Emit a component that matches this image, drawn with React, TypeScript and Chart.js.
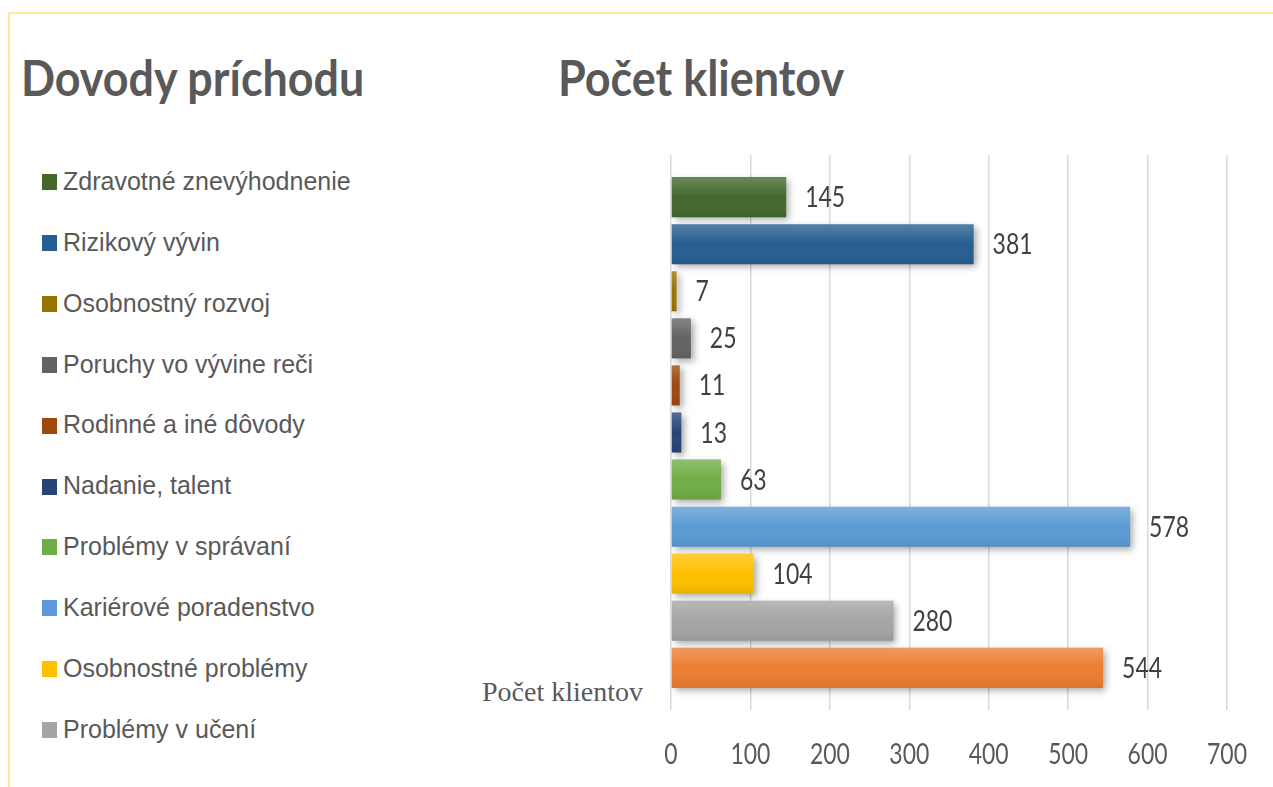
import React, { useEffect, useLayoutEffect, useRef, useState } from "react";
import { Chart, registerables } from "chart.js";

Chart.register(...registerables);

// ---- data ----
const categories: string[] = ["Počet klientov"];
const seriesNames: string[] = [
  "Zdravotné znevýhodnenie",
  "Rizikový vývin",
  "Osobnostný rozvoj",
  "Poruchy vo vývine reči",
  "Rodinné a iné dôvody",
  "Nadanie, talent",
  "Problémy v správaní",
  "Kariérové poradenstvo",
  "Osobnostné problémy",
  "Problémy v učení",
  "Iné",
];
const seriesValues: number[] = [145, 381, 7, 25, 11, 13, 63, 578, 104, 280, 544];
const seriesColors: string[] = [
  "#43682B",
  "#255E91",
  "#997300",
  "#636363",
  "#9E480E",
  "#264478",
  "#70AD47",
  "#5B9BD5",
  "#FFC000",
  "#A5A5A5",
  "#ED7D31",
];
const legendVisibleCount = 10;
const xMin = 0;
const xMax = 700;
const xStep = 100;
const leftTitle = "Dovody príchodu";
const chartTitle = "Počet klientov";

const CANVAS_FONT = '28px Lato, "DejaVu Sans", sans-serif';
const TEXT_SQUEEZE = 0.82;

function drawSqueezed(ctx: CanvasRenderingContext2D, text: string, x: number, y: number, align: CanvasTextAlign) {
  ctx.save();
  ctx.translate(x, y);
  ctx.scale(TEXT_SQUEEZE, 1);
  ctx.font = CANVAS_FONT;
  ctx.textAlign = align;
  ctx.textBaseline = "middle";
  ctx.fillText(text, 0, 0);
  ctx.restore();
}

const barEffects = {
  id: "barEffects",
  beforeDatasetsDraw(chart: any) {
    const ctx = chart.ctx;
    ctx.save();
    ctx.shadowColor = "rgba(0,0,0,0.35)";
    ctx.shadowBlur = 7;
    ctx.shadowOffsetX = 3;
    ctx.shadowOffsetY = 3;
  },
  afterDatasetsDraw(chart: any) {
    const ctx = chart.ctx;
    ctx.restore();
    chart.data.datasets.forEach((ds: any, i: number) => {
      const meta = chart.getDatasetMeta(i);
      meta.data.forEach((el: any, j: number) => {
        const { x, y, base, height } = el.getProps(["x", "y", "base", "height"], true);
        const top = y - height / 2;
        const g = ctx.createLinearGradient(0, top, 0, top + height);
        g.addColorStop(0, "rgba(255,255,255,0.22)");
        g.addColorStop(0.5, "rgba(255,255,255,0)");
        g.addColorStop(1, "rgba(0,0,0,0.08)");
        ctx.save();
        ctx.fillStyle = g;
        ctx.fillRect(Math.min(base, x), top, Math.abs(x - base), height);
        ctx.restore();
        ctx.save();
        ctx.fillStyle = "#404040";
        drawSqueezed(ctx, String(ds.data[j]), x + 19, y + 1, "left");
        ctx.restore();
      });
    });
  },
  afterDraw(chart: any) {
    const ctx = chart.ctx;
    const xs = chart.scales.x;
    ctx.save();
    ctx.fillStyle = "#595959";
    xs.ticks.forEach((t: any) => {
      const px = xs.getPixelForValue(t.value);
      drawSqueezed(ctx, String(t.value), px, chart.chartArea.bottom + 45, "center");
    });
    ctx.restore();
  },
};

function BarChart() {
  const ref = useRef<HTMLCanvasElement | null>(null);
  useEffect(() => {
    if (!ref.current) return;
    const chart = new Chart(ref.current, {
      type: "bar",
      data: {
        labels: categories,
        datasets: seriesNames.map((name, i) => ({
          label: name,
          data: [seriesValues[i]],
          backgroundColor: seriesColors[i],
          borderWidth: 0,
          categoryPercentage: 0.933,
          barPercentage: 0.85,
        })),
      },
      options: {
        indexAxis: "y",
        responsive: false,
        animation: false,
        devicePixelRatio: 1,
        layout: { padding: { left: 71, right: 46, top: 15, bottom: 77 } },
        plugins: { legend: { display: false }, tooltip: { enabled: false }, title: { display: false } },
        scales: {
          x: {
            min: xMin,
            max: xMax,
            ticks: { stepSize: xStep, display: false },
            grid: { color: "#D9D9D9", lineWidth: 1.5, drawTicks: false },
            border: { display: false },
          },
          y: { display: false },
        },
      },
      plugins: [barEffects],
    } as any);
    return () => chart.destroy();
  }, []);
  return (
    <canvas
      ref={ref}
      width={673}
      height={647}
      style={{ position: "absolute", left: 600, top: 140, width: 673, height: 647, display: "block" }}
    />
  );
}

function FitText({ text, width, style }: { text: string; width: number; style: React.CSSProperties }) {
  const ref = useRef<HTMLDivElement | null>(null);
  const [k, setK] = useState(1);
  useLayoutEffect(() => {
    if (ref.current) {
      const w = ref.current.scrollWidth;
      if (w > 0) setK(width / w);
    }
  }, [text, width]);
  return (
    <div
      ref={ref}
      style={{ ...style, whiteSpace: "nowrap", transform: `scaleX(${k})`, transformOrigin: "left top" }}
    >
      {text}
    </div>
  );
}

const titleStyle: React.CSSProperties = {
  position: "absolute",
  top: 53,
  fontFamily: 'Lato, "DejaVu Sans", sans-serif',
  fontWeight: 700,
  fontSize: 49,
  lineHeight: "49px",
  color: "#595959",
};

export default function App() {
  return (
    <div
      style={{
        position: "absolute",
        left: 0,
        top: 0,
        width: 1273,
        height: 787,
        overflow: "hidden",
        background: "#fff",
      }}
    >
      <div style={{ position: "absolute", left: 8, top: 12, width: 1265, height: 2, background: "#FFE699" }} />
      <div style={{ position: "absolute", left: 8, top: 12, width: 2, height: 775, background: "#FFE699" }} />
      <FitText text={leftTitle} width={343} style={{ ...titleStyle, left: 21 }} />
      <FitText text={chartTitle} width={286} style={{ ...titleStyle, left: 558 }} />
      {seriesNames.slice(0, legendVisibleCount).map((name, i) => {
        const baseline = 190 + i * 60.9;
        return (
          <React.Fragment key={name}>
            <div
              style={{
                position: "absolute",
                left: 42,
                top: baseline - 16,
                width: 15,
                height: 16,
                background: seriesColors[i],
              }}
            />
            <div
              style={{
                position: "absolute",
                left: 63,
                top: baseline - 21.2,
                fontFamily: '"Liberation Sans", Arial, sans-serif',
                fontSize: 25,
                lineHeight: "25px",
                color: "#595959",
                whiteSpace: "nowrap",
              }}
            >
              {name}
            </div>
          </React.Fragment>
        );
      })}
      <div
        style={{
          position: "absolute",
          left: 482,
          top: 678,
          fontFamily: '"Liberation Serif", "Times New Roman", serif',
          fontSize: 28,
          lineHeight: "28px",
          color: "#595959",
          whiteSpace: "nowrap",
        }}
      >
        {categories[0]}
      </div>
      <BarChart />
    </div>
  );
}
